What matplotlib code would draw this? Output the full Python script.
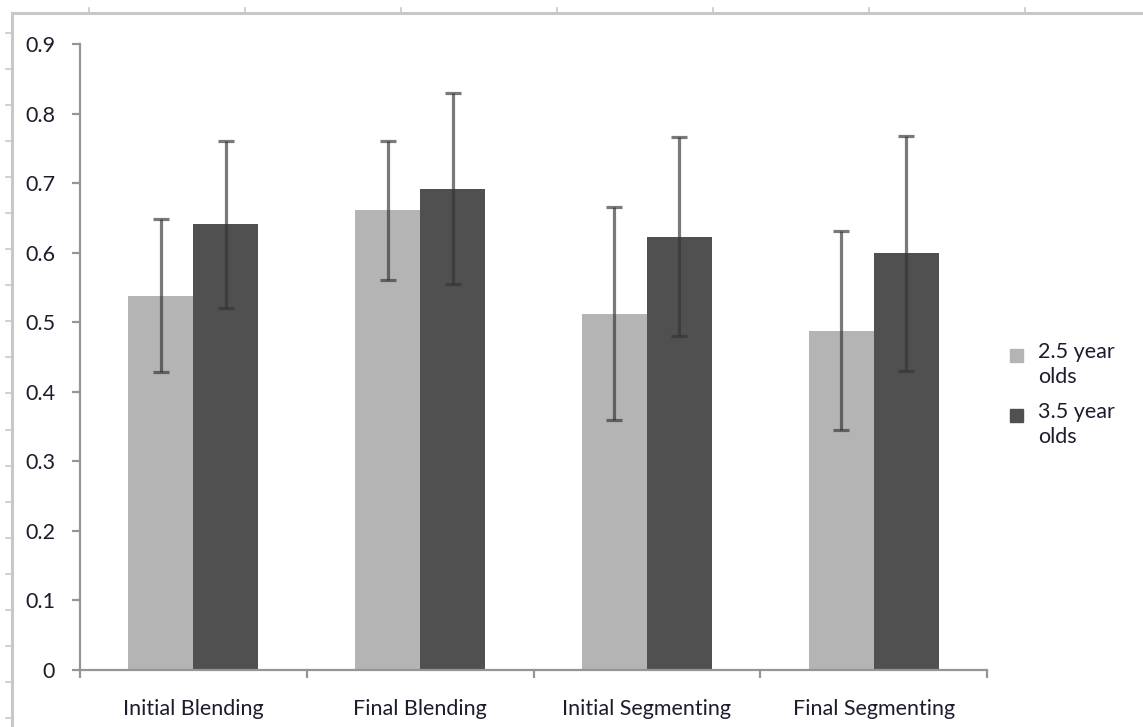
import matplotlib
matplotlib.use('Agg')
import matplotlib.pyplot as plt
import numpy as np
from matplotlib.lines import Line2D
from matplotlib.patches import Rectangle

categories = ['Initial Blending', 'Final Blending', 'Initial Segmenting', 'Final Segmenting']
groups = ['2.5 year\nolds', '3.5 year\nolds']
means_25 = [0.538, 0.661, 0.512, 0.488]
err_25 = [0.110, 0.100, 0.153, 0.143]
means_35 = [0.641, 0.692, 0.623, 0.599]
err_35 = [0.120, 0.137, 0.143, 0.169]
yticks = [0, 0.1, 0.2, 0.3, 0.4, 0.5, 0.6, 0.7, 0.8, 0.9]

light = '#b4b4b4'
dark = '#505050'
axis_col = '#959595'
text_col = '#1c1c2c'
fs = 15.5

plt.rcParams['font.family'] = ['Lato', 'DejaVu Sans']

fig = plt.figure(figsize=(11.43, 7.27), dpi=100)
ax = fig.add_axes([80 / 1143, 1 - 670 / 727, (987 - 80) / 1143, (670 - 44) / 727])

x = np.arange(len(categories)) + 0.5
w = 0.287
ekw = dict(ecolor='#333333', elinewidth=2.3, capsize=5.5, capthick=2.3, alpha=0.65)
ax.bar(x - w / 2, means_25, w, color=light, yerr=err_25, error_kw=ekw, zorder=2)
ax.bar(x + w / 2, means_35, w, color=dark, yerr=err_35, error_kw=ekw, zorder=2)

ax.set_xlim(0, len(categories))
ax.set_ylim(0, 0.9)
ax.set_yticks(yticks)
ax.set_yticklabels(['0' if t == 0 else f'{t:.1f}' for t in yticks])
ax.set_xticks(np.arange(len(categories) + 1))
ax.set_xticklabels([])
ax.set_xticks(x, minor=True)
ax.set_xticklabels(categories, minor=True)

for s in ['top', 'right']:
    ax.spines[s].set_visible(False)
for s in ['left', 'bottom']:
    ax.spines[s].set_color(axis_col)
    ax.spines[s].set_linewidth(1.6)
ax.tick_params(axis='y', direction='out', length=6, width=1.6, color=axis_col,
               pad=12, labelsize=fs, labelcolor=text_col)
ax.tick_params(axis='x', which='major', direction='out', length=6, width=1.6, color=axis_col)
ax.tick_params(axis='x', which='minor', length=0, pad=21, labelsize=fs, labelcolor=text_col)

# legend
for i, (lab, col) in enumerate(zip(groups, [light, dark])):
    yy = 1 - (355 + 60 * i) / 727
    fig.patches.append(Rectangle((1010 / 1143, yy - 6.5 / 727), 13 / 1143, 13 / 727,
                                 transform=fig.transFigure, color=col))
    fig.text(1038 / 1143, yy + 13 / 727, lab, va='top', ha='left', fontsize=fs,
             color=text_col, linespacing=1.3)

# outer frame lines of the screenshot
frame = '#c8c8c8'
fig.lines.append(Line2D([12 / 1143, 1], [1 - 13 / 727] * 2, transform=fig.transFigure,
                        color=frame, lw=2.2))
fig.lines.append(Line2D([12 / 1143] * 2, [0, 1 - 13 / 727], transform=fig.transFigure,
                        color=frame, lw=2.2))
for tx in np.arange(89, 1143, 156):
    fig.lines.append(Line2D([tx / 1143] * 2, [1 - 13 / 727, 1 - 8 / 727],
                            transform=fig.transFigure, color=frame, lw=1.2))
for ty in np.arange(32.5, 727, 36.1):
    fig.lines.append(Line2D([6 / 1143, 12 / 1143], [1 - ty / 727] * 2,
                            transform=fig.transFigure, color=frame, lw=1.2))

fig.savefig('out.png', dpi=100)
